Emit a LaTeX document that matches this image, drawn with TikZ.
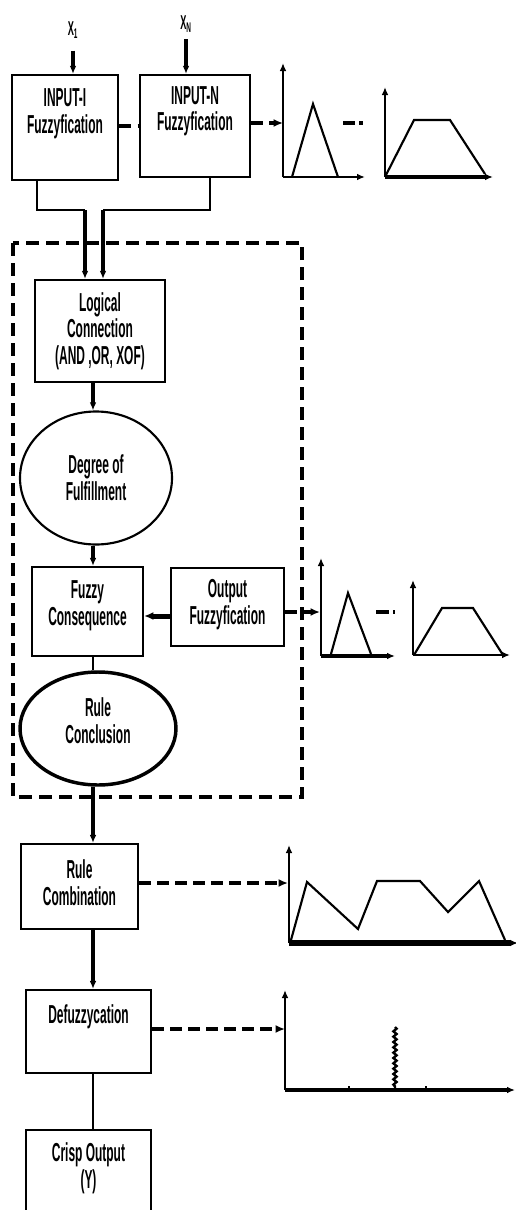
\documentclass[tikz,border=0pt]{standalone}
\usepackage{fontspec}
\setmainfont{Liberation Sans}[FakeStretch=0.46]
\usetikzlibrary{arrows.meta,shapes.geometric,decorations.pathmorphing,calc}
\begin{document}
\begin{tikzpicture}[x=0.75pt,y=-0.75pt,
  every node/.style={font=\fontsize{19.5}{20}\selectfont\bfseries},
  box/.style={draw,line width=1.6pt,align=center,inner sep=0pt},
  ell/.style={draw,ellipse,line width=1.6pt,align=center,inner sep=0pt},
  lbl/.style={align=center,inner sep=0pt},
  tip/.style={-{Latex[length=6pt,width=5pt]}},
  arr/.style={tip,line width=2.4pt},
  darr/.style={-{Latex[length=7pt,width=6pt]},line width=3.5pt,dash pattern=on 9pt off 4.5pt},
  axis/.style={-{Latex[length=6pt,width=5pt]},line width=2.2pt},
  curve/.style={line width=1.6pt,line join=miter},
  xlab/.style={font=\fontsize{15}{16}\selectfont\bfseries,inner sep=1pt}]
\useasboundingbox (0,0) rectangle (515,1210);

% ---------- boxes ----------
\node[box,minimum width=79.5pt,minimum height=78.75pt,
  label={[lbl,yshift=10.5pt]center:INPUT-I\\Fuzzyfication}] (inI) at (65,127.5) {};
\node[box,minimum width=82.5pt,minimum height=76.5pt,
  label={[lbl,yshift=11pt]center:INPUT-N\\Fuzzyfication}] (inN) at (195,126) {};
\node[xlab] (x1) at (73,30) {X\textsubscript{1}};
\node[xlab] (xn) at (186,24) {X\textsubscript{N}};

\node[box,minimum width=97.5pt,minimum height=76.5pt] (logic) at (100,331)
  {Logical\\Connection\\(AND ,OR, XOF)};
\node[ell,minimum width=114pt,minimum height=99.75pt] (deg) at (96,478)
  {Degree of\\Fulfillment};
\node[box,minimum width=83.25pt,minimum height=66.75pt,
  label={[lbl,yshift=4.5pt]center:Fuzzy\\Consequence}] (cons) at (87.5,611.5) {};
\node[box,minimum width=84.75pt,minimum height=58.5pt,
  label={[lbl,yshift=2pt]center:Output\\Fuzzyfication}] (outf) at (227.5,607) {};
\node[ell,line width=2.6pt,minimum width=117pt,minimum height=84.75pt,
  label={[lbl,yshift=6pt]center:Rule\\Conclusion}] (rulec) at (98,728.5) {};
\node[box,minimum width=87.75pt,minimum height=63.75pt,
  label={[lbl,yshift=3pt]center:Rule\\Combination}] (comb) at (79.5,886.5) {};
\node[box,minimum width=93.75pt,minimum height=62.25pt,
  label={[lbl,yshift=10.9pt]center:Defuzzycation}] (defuz) at (88.5,1031.5) {};
\node[box,minimum width=93.75pt,minimum height=71.25pt,
  label={[lbl,yshift=6.75pt]center:Crisp Output\\(Y)}] (crisp) at (88.5,1177.5) {};

% ---------- dashed frame ----------
\draw[line width=2.5pt,dash pattern=on 10pt off 5pt] (13,243) rectangle (302,797);

% ---------- connectors ----------
\draw[arr,line width=2.6pt,shorten <=8pt] (x1.south) -- (x1.south |- inI.north);
\draw[arr,line width=2.6pt,shorten <=4pt] (xn.south) -- (xn.south |- inN.north);
\draw[line width=3.5pt,dash pattern=on 9pt off 5pt] (inI.east |- 0,126) -- (inN.west |- 0,126);

\coordinate (j1) at (85,210);
\coordinate (j2) at (103,210);
\draw[line width=1.6pt] (inI.south -| 37,0) |- (j1);
\draw[arr] (j1) -- (j1 |- logic.north);
\draw[line width=1.6pt] (inN.south -| 210,0) |- (j2);
\draw[arr] (j2) -- (j2 |- logic.north);

\draw[arr] (logic.south -| 93,0) -- (deg.north -| 93,0);
\draw[arr] (deg.south -| 93,0) -- (cons.north -| 93,0);
\draw[-{Latex[length=7pt,width=6pt]},line width=3.75pt] (outf.west |- 0,616) -- (cons.east |- 0,616);
\draw[line width=1pt] (cons.south -| 93,0) -- (rulec.north -| 93,0);
\draw[arr] (rulec.south -| 93,0) -- (comb.north -| 93,0);
\draw[arr,line width=2.8pt] (comb.south -| 93,0) -- (defuz.north -| 93,0);
\draw[line width=1pt] (defuz.south -| 93,0) -- (crisp.north -| 93,0);

% ---------- dashed arrows to charts ----------
\coordinate (a1) at (283,123);
\coordinate (a2) at (320,612);
\coordinate (a3) at (288,883);
\coordinate (a4) at (285,1029);
\draw[darr] (inN.east |- a1) -- (a1);
\draw[darr] (outf.east |- a2) -- (a2);
\draw[darr] (comb.east |- a3) -- (a3);
\draw[darr] (defuz.east |- a4) -- (a4);

% ---------- top charts ----------
\draw[axis] (283,177) -- (283,63);
\draw[axis] (283,177) -- (365,177);
\draw[curve] (292,177) -- (313,104) -- (338,177);
\draw[line width=3.5pt] (343,123) -- (355,123) (359,123) -- (363,123);
\draw[axis] (385,177) -- (385,87);
\draw[axis,line width=3pt] (385,177) -- (493,177);
\draw[curve] (386,175) -- (414,120) -- (450,120) -- (485,174);

% ---------- middle charts ----------
\draw[axis] (321,656) -- (321,558);
\draw[axis,line width=3pt] (321,656) -- (395,656);
\draw[curve] (331,654) -- (348,593) -- (371,654);
\draw[line width=3.5pt] (376,612) -- (389,612) (393,612) -- (395,612);
\draw[axis] (413,655) -- (413,580);
\draw[axis] (413,655) -- (510,655);
\draw[curve] (414,655) -- (442,608) -- (473,608) -- (503,655);

% ---------- rule combination chart ----------
\draw[axis] (289,943) -- (289,845);
\draw[axis,line width=4pt] (289,943) -- (518,943);
\draw[curve] (291,940) -- (307,882) -- (358,929) -- (377,881) -- (420,881)
  -- (448,912) -- (479,881) -- (505,940);

% ---------- defuzzycation chart ----------
\draw[axis] (285,1090) -- (285,990);
\draw[axis,line width=3pt] (285,1090) -- (515,1090);
\draw[line width=1pt] (349,1090) -- (349,1086) (426,1090) -- (426,1086);
\draw[line width=1.8pt,decorate,decoration={snake,amplitude=1.2pt,segment length=4pt}]
  (395,1027) -- (395,1088);
\end{tikzpicture}
\end{document}
